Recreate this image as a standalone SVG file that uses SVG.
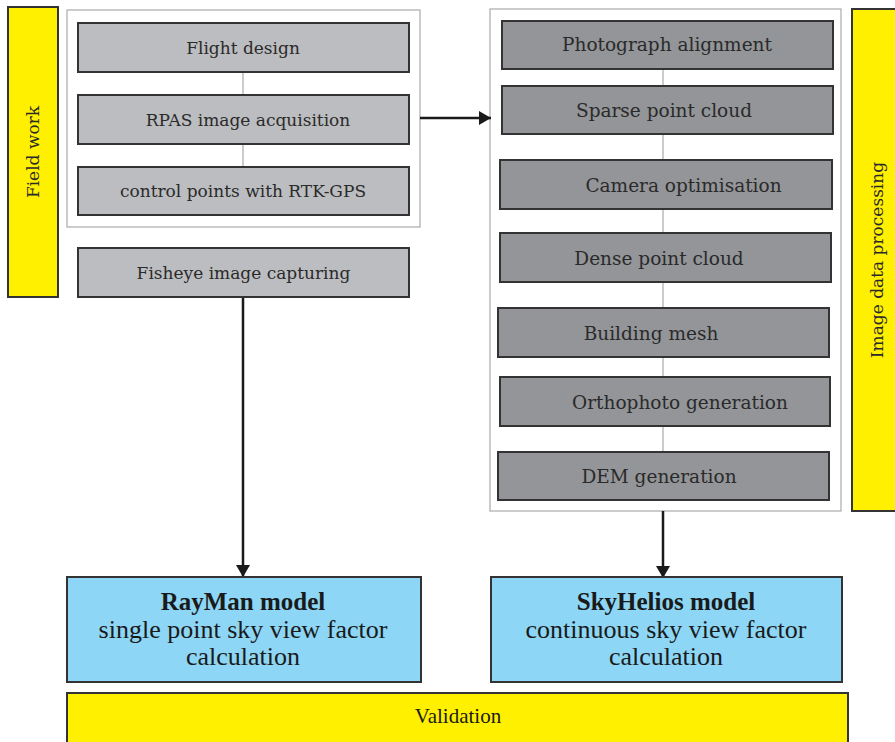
<svg xmlns="http://www.w3.org/2000/svg" width="895" height="742" viewBox="0 0 895 742">
<defs>
<style>
.bar{fill:#fff000;stroke:#333;stroke-width:2}
.cont{fill:#fff;stroke:#aaa;stroke-width:1.2}
.lbox{fill:#bcbdc0;stroke:#333;stroke-width:2}
.dbox{fill:#939598;stroke:#333;stroke-width:2}
.bbox{fill:#8dd6f5;stroke:#333;stroke-width:2}
.t{font-family:"DejaVu Serif","Liberation Serif",serif;fill:#2a2a2a;text-anchor:middle}
.tl{font-size:17px}
.tr{font-size:18.5px}
.tb{font-family:"Liberation Serif",serif;fill:#1a1a1a;text-anchor:middle;font-size:26px}
.thin{stroke:#aaa;stroke-width:1.2;fill:none}
.arr{stroke:#1a1a1a;stroke-width:2.5;fill:none}
</style>
<marker id="ah" viewBox="0 0 12 14" refX="12" refY="7" markerWidth="12" markerHeight="14" markerUnits="userSpaceOnUse" orient="auto">
<path d="M0,0 L12,7 L0,14 Z" fill="#1a1a1a"/>
</marker>
</defs>
<rect width="895" height="742" fill="#fff"/>

<g id="field-work">
<rect class="bar" x="8" y="7" width="50" height="290"/>
<text class="t tl" transform="translate(39,152) rotate(-90)">Field work</text>
</g>
<g id="image-processing">
<rect class="bar" x="852" y="9" width="50" height="502"/>
<text class="t tl" transform="translate(883,260) rotate(-90)">Image data processing</text>
</g>

<g id="field-container"><rect class="cont" x="67" y="10" width="353" height="217"/></g>
<g id="processing-container"><rect class="cont" x="490" y="9" width="351" height="502"/></g>

<g id="connectors">
<line class="thin" x1="243" y1="72" x2="243" y2="95"/>
<line class="thin" x1="243" y1="144" x2="243" y2="167"/>
<line class="thin" x1="663" y1="70" x2="663" y2="86"/>
<line class="thin" x1="663" y1="134" x2="663" y2="160"/>
<line class="thin" x1="663" y1="209" x2="663" y2="233"/>
<line class="thin" x1="663" y1="282" x2="663" y2="308"/>
<line class="thin" x1="663" y1="357" x2="663" y2="377"/>
<line class="thin" x1="663" y1="426" x2="663" y2="452"/>
<line class="arr" x1="420" y1="118" x2="491" y2="118" marker-end="url(#ah)"/>
<line class="arr" x1="243" y1="297" x2="243" y2="577" marker-end="url(#ah)"/>
<line class="arr" x1="663" y1="511" x2="663" y2="578" marker-end="url(#ah)"/>
</g>

<g id="flight-design"><rect class="lbox" x="78" y="23" width="331" height="49"/><text class="t tl" x="243" y="54">Flight design</text></g>
<g id="rpas"><rect class="lbox" x="78" y="95" width="331" height="49"/><text class="t tl" x="248" y="126">RPAS image acquisition</text></g>
<g id="control-points"><rect class="lbox" x="78" y="167" width="331" height="48"/><text class="t tl" x="243" y="197">control points with RTK-GPS</text></g>
<g id="fisheye"><rect class="lbox" x="78" y="248" width="331" height="49"/><text class="t tl" x="243.5" y="279">Fisheye image capturing</text></g>

<g id="photo-align"><rect class="dbox" x="502" y="21" width="331" height="48"/><text class="t tr" x="667" y="51">Photograph alignment</text></g>
<g id="sparse"><rect class="dbox" x="502" y="86" width="331" height="48"/><text class="t tr" x="664" y="117">Sparse point cloud</text></g>
<g id="camera"><rect class="dbox" x="500" y="160" width="332" height="49"/><text class="t tr" x="683.5" y="192">Camera optimisation</text></g>
<g id="dense"><rect class="dbox" x="500" y="233" width="331" height="49"/><text class="t tr" x="659" y="265">Dense point cloud</text></g>
<g id="mesh"><rect class="dbox" x="498" y="308" width="331" height="49"/><text class="t tr" x="651" y="340">Building mesh</text></g>
<g id="ortho"><rect class="dbox" x="500" y="377" width="330" height="49"/><text class="t tr" x="680" y="409">Orthophoto generation</text></g>
<g id="dem"><rect class="dbox" x="498" y="452" width="331" height="48"/><text class="t tr" x="659" y="483">DEM generation</text></g>

<g id="rayman"><rect class="bbox" x="67" y="577" width="354" height="105"/>
<text class="tb" x="243" y="610" font-weight="bold" style="font-size:25px">RayMan model</text>
<text class="tb" x="243" y="638">single point sky view factor</text>
<text class="tb" x="243" y="665">calculation</text></g>
<g id="skyhelios"><rect class="bbox" x="491" y="577" width="351" height="105"/>
<text class="tb" x="666" y="610" font-weight="bold" style="font-size:25px">SkyHelios model</text>
<text class="tb" x="666" y="638">continuous sky view factor</text>
<text class="tb" x="666" y="665">calculation</text></g>
<g id="validation"><rect class="bar" x="67" y="693" width="781" height="60"/>
<text class="tb" x="458" y="723" style="font-size:21px">Validation</text></g>
</svg>
